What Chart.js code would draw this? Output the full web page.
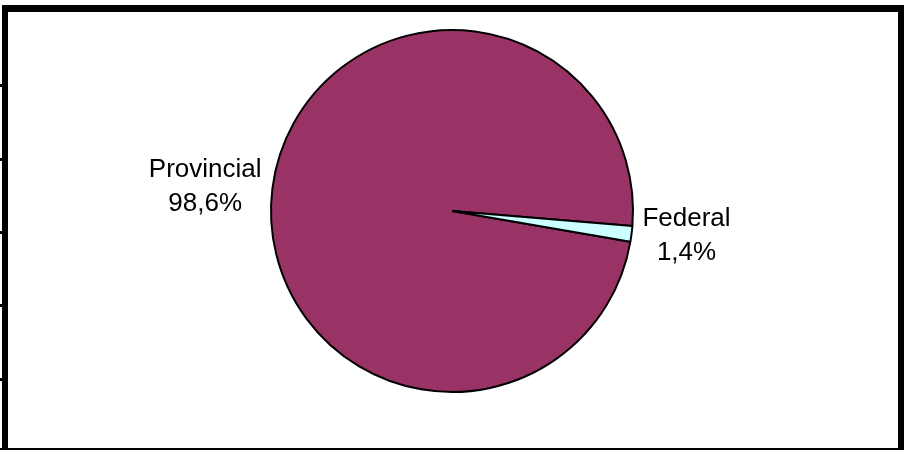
<!DOCTYPE html>
<html>
<head>
<meta charset="utf-8">
<script src="https://cdn.jsdelivr.net/npm/chart.js@4.4.0/dist/chart.umd.min.js"></script>
<style>
  html, body { margin: 0; padding: 0; background: #ffffff; }
  #wrap { position: relative; width: 906px; height: 450px; }
</style>
</head>
<body>
<div id="wrap"><canvas id="c" width="906" height="450"></canvas></div>
<script>
const categories = ["Provincial", "Federal"];
const values = [98.6, 1.4];
const valueLabels = ["98,6%", "1,4%"];
const colors = ["#993366", "#CCFFFF"];

const framePlugin = {
  id: 'frame',
  afterDraw(chart) {
    const ctx = chart.ctx;
    ctx.save();
    ctx.fillStyle = '#000';
    ctx.fillRect(2, 5, 902, 7);      // top bar
    ctx.fillRect(2, 5, 6, 445);      // left bar
    ctx.fillRect(898, 5, 6, 445);    // right bar
    ctx.fillRect(0, 448, 904, 2);    // bottom line
    [84, 158, 231, 304, 378].forEach(y => ctx.fillRect(0, y, 3, 3));
    ctx.restore();
  }
};

const labelPlugin = {
  id: 'outLabels',
  afterDatasetsDraw(chart) {
    const ctx = chart.ctx;
    const meta = chart.getDatasetMeta(0);
    ctx.save();
    ctx.font = '26px "Liberation Sans", Arial, sans-serif';
    ctx.fillStyle = '#000';
    ctx.textBaseline = 'middle';
    ctx.textAlign = 'center';
    const lineH = 34;
    meta.data.forEach((arc, i) => {
      const p = arc.getProps(['x', 'y', 'startAngle', 'endAngle', 'outerRadius'], true);
      const mid = (p.startAngle + p.endAngle) / 2;
      const d = p.outerRadius + 11;
      const ax = p.x + Math.cos(mid) * d;
      const ay = p.y + Math.sin(mid) * d;
      const lines = [categories[i], valueLabels[i]];
      const w = Math.max(...lines.map(l => ctx.measureText(l).width));
      const cx = Math.cos(mid) < 0 ? ax - w / 2 : ax + w / 2;
      const top = ay - lineH / 2;
      lines.forEach((l, k) => ctx.fillText(l, cx, top + k * lineH));
    });
    ctx.restore();
  }
};

new Chart(document.getElementById('c'), {
  type: 'pie',
  data: {
    labels: categories,
    datasets: [{
      data: values,
      backgroundColor: colors,
      borderColor: '#000',
      borderWidth: 2,
      borderAlign: 'center'
    }]
  },
  options: {
    responsive: false,
    animation: false,
    rotation: 99.8,
    layout: { padding: { top: 29, bottom: 57, left: 0, right: 2 } },
    plugins: {
      legend: { display: false },
      tooltip: { enabled: false }
    }
  },
  plugins: [labelPlugin, framePlugin]
});
</script>
</body>
</html>
